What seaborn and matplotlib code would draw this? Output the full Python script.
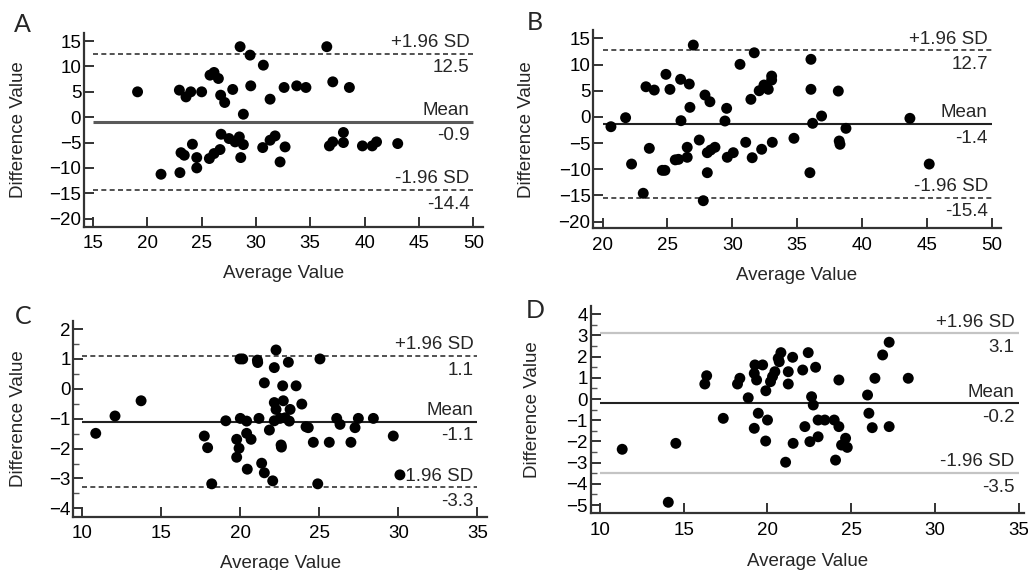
import matplotlib
matplotlib.use("Agg")
import matplotlib.pyplot as plt
from matplotlib.ticker import MultipleLocator
import seaborn as sns
import pandas as pd

# ---------------- data ----------------
panel_letters = ["A", "B", "C", "D"]
line_names = ["+1.96 SD", "Mean", "-1.96 SD"]

A_x = [19.1, 22.95, 23.56, 24.0, 25.0, 25.77, 26.14, 26.54, 26.75, 27.12, 27.86, 28.54,
       28.84, 29.46, 29.52, 30.68, 31.3, 32.59, 33.75, 34.6, 36.52, 37.07, 38.6,
       21.26, 23.0, 23.1, 23.4, 24.15, 24.55, 24.55, 25.71, 26.14, 26.69, 26.79, 27.52,
       28.08, 28.47, 28.84, 28.6, 30.62, 31.3, 31.76, 32.68, 32.22, 36.76, 37.07, 38.05,
       38.05, 39.8, 40.7, 41.1, 43.05]
A_y = [5.0, 5.33, 4.0, 5.0, 5.0, 8.29, 8.82, 7.63, 4.34, 2.9, 5.47, 13.9,
       0.59, 12.24, 6.18, 10.26, 3.55, 5.86, 6.18, 5.86, 13.9, 6.97, 5.86,
       -11.25, -10.93, -7.0, -7.5, -5.33, -7.96, -10.0, -8.15, -7.17, -6.38, -3.36, -4.21,
       -4.87, -3.89, -5.4, -7.96, -5.99, -4.54, -3.69, -5.86, -8.82, -5.66, -4.87, -3.02,
       -5.0, -5.66, -5.66, -4.87, -5.2]
A_limits = [12.5, -0.9, -14.4]

B_x = [26.99, 31.69, 30.59, 36.06, 24.88, 23.34, 23.98, 25.19, 26.01, 26.68, 27.89, 28.27,
       26.73, 29.56, 26.04, 29.43, 31.43, 32.07, 32.44, 32.77, 33.03, 33.03, 36.06, 38.17,
       36.88, 36.19, 38.76, 20.64, 21.77, 43.69,
       23.6, 24.6, 24.8, 25.6, 25.85, 26.52, 26.52, 27.45, 28.07, 28.33, 28.66, 28.07,
       29.61, 30.07, 31.03, 31.53, 32.26, 33.08, 34.75, 38.24, 38.3, 35.98, 23.13, 27.76,
       22.23, 45.18]
B_y = [13.72, 12.25, 10.04, 11.0, 8.13, 5.76, 5.13, 5.26, 7.18, 6.28, 4.18, 2.9,
       1.83, 1.64, -0.72, -0.78, 3.36, 5.0, 6.09, 5.27, 7.8, 7.04, 5.27, 4.94,
       0.17, -1.22, -2.18, -1.87, -0.15, -0.27,
       -6.0, -10.2, -10.2, -8.2, -8.1, -5.8, -7.71, -4.41, -6.83, -6.32, -5.8, -10.65,
       -7.71, -6.83, -4.85, -7.79, -6.18, -4.85, -4.08, -4.6, -5.23, -10.65, -14.58, -16.0,
       -9.0, -9.0]
B_limits = [12.7, -1.4, -15.4]

C_x = [22.26, 19.98, 20.15, 21.08, 21.1, 23.04, 22.15, 25.04, 21.52, 22.68, 23.53, 22.15,
       22.72, 22.26, 23.15, 23.89, 19.08, 20.0, 20.4, 21.18, 22.15, 22.51, 22.83, 23.1,
       21.84, 24.16, 24.3, 26.1, 26.31, 27.47, 27.26, 28.42, 17.72, 17.93, 19.77, 20.4,
       20.68, 19.92, 19.77, 22.58, 22.6, 24.62, 25.63, 27.0, 20.44, 21.35, 21.52, 22.05,
       18.19, 24.9, 10.85, 12.07, 13.72, 29.68, 30.1]
C_y = [1.3, 1.0, 1.0, 0.96, 0.88, 0.89, 0.71, 1.0, 0.2, 0.1, 0.1, -0.46,
       -0.4, -0.69, -0.69, -0.51, -1.07, -0.99, -1.08, -0.99, -1.07, -0.99, -0.97, -1.08,
       -1.38, -1.27, -1.3, -0.99, -1.19, -0.99, -1.3, -0.99, -1.58, -1.97, -1.69, -1.49,
       -1.69, -1.99, -2.29, -1.88, -1.95, -1.79, -1.79, -1.79, -2.69, -2.49, -2.81, -3.08,
       -3.18, -3.18, -1.49, -0.91, -0.4, -1.58, -2.88]
C_limits = [1.1, -1.1, -3.3]

D_x = [16.37, 16.26, 17.36, 14.53, 14.08, 11.33, 18.35, 18.21, 18.85, 19.25, 19.71, 19.21,
       19.35, 19.9, 20.18, 20.3, 20.44, 20.64, 20.8, 20.7, 21.5, 21.24, 21.24, 22.1,
       22.43, 22.87, 24.26, 22.63, 22.73, 19.45, 20.0, 19.21, 19.89, 21.53, 22.23, 23.02,
       23.42, 23.98, 24.26, 22.53, 23.02, 24.66, 24.42, 24.76, 21.08, 24.06, 27.26, 26.87,
       26.41, 28.4, 25.97, 26.05, 26.25, 27.26]
D_y = [1.1, 0.71, -0.91, -2.09, -4.87, -2.37, 0.98, 0.71, 0.06, 1.61, 1.61, 1.21,
       0.9, 0.39, 0.82, 1.06, 1.29, 1.92, 2.19, 1.76, 1.97, 1.29, 0.71, 1.37,
       2.19, 1.5, 0.9, 0.11, -0.28, -0.67, -0.99, -1.38, -1.98, -2.09, -1.3, -0.99,
       -0.99, -0.99, -1.3, -2.01, -1.78, -1.85, -2.17, -2.28, -2.98, -2.88, 2.68, 2.08,
       0.98, 0.98, 0.19, -0.67, -1.35, -1.3]
D_limits = [3.1, -0.2, -3.5]

A_xticks = [15, 20, 25, 30, 35, 40, 45, 50]
A_yticks = [15, 10, 5, 0, -5, -10, -15, -20]
B_xticks = [20, 25, 30, 35, 40, 45, 50]
B_yticks = [15, 10, 5, 0, -5, -10, -15, -20]
C_xticks = [10, 15, 20, 25, 30, 35]
C_yticks = [2, 1, 0, -1, -2, -3, -4]
D_xticks = [10, 15, 20, 25, 30, 35]
D_yticks = [4, 3, 2, 1, 0, -1, -2, -3, -4, -5]

x_label = "Average Value"
y_label = "Difference Value"

# ---------------- style ----------------
sns.set_theme(style="ticks")
plt.rcParams["font.family"] = ["Liberation Sans", "DejaVu Sans"]
plt.rcParams["axes.linewidth"] = 1.6
plt.rcParams["axes.edgecolor"] = "#333333"

FS = 13.5
fig = plt.figure(figsize=(10.28, 5.70), dpi=100)
W, H = 1028, 570

def px_axes(left, right, top, bottom):
    return fig.add_axes([left / W, (H - bottom) / H, (right - left) / W, (bottom - top) / H])

panels = [
    dict(letter="A", x=A_x, y=A_y, lim=A_limits, xt=A_xticks, yt=A_yticks,
         box=(84, 483, 33, 227), xlim=(14.17, 50.9), ylim=(-21.65, 16.6),
         minor=None, dashed=True, mean_col="#5a5a5a", mean_lw=2.2,
         letter_xy=(22, 25), xl_off=38, yl_off=57),
    dict(letter="B", x=B_x, y=B_y, lim=B_limits, xt=B_xticks, yt=B_yticks,
         box=(593.3, 1000.7, 30, 228.3), xlim=(19.28, 50.69), ylim=(-21.27, 16.6),
         minor=None, dashed=True, mean_col="#222222", mean_lw=1.5,
         letter_xy=(535, 22), xl_off=39, yl_off=58),
    dict(letter="C", x=C_x, y=C_y, lim=C_limits, xt=C_xticks, yt=C_yticks,
         box=(73.3, 487.3, 320.7, 516.7), xlim=(9.43, 35.63), ylim=(-4.28, 2.28),
         minor=0.5, dashed=True, mean_col="#222222", mean_lw=1.5,
         letter_xy=(23, 316), xl_off=38, yl_off=46),
    dict(letter="D", x=D_x, y=D_y, lim=D_limits, xt=D_xticks, yt=D_yticks,
         box=(590.7, 1023.9, 306, 513.3), xlim=(9.45, 35.3), ylim=(-5.39, 4.39),
         minor=0.5, dashed=False, mean_col="#222222", mean_lw=1.5,
         letter_xy=(535, 310), xl_off=40, yl_off=50),
]

for p in panels:
    left, right, top, bottom = p["box"]
    ax = px_axes(left, right, top, bottom)
    df = pd.DataFrame({"avg": p["x"], "diff": p["y"]})
    sns.scatterplot(data=df, x="avg", y="diff", ax=ax, color="black", s=62,
                    edgecolor="none", linewidth=0, zorder=5)
    ax.set_xlim(*p["xlim"])
    ax.set_ylim(*p["ylim"])
    ax.set_xticks(p["xt"])
    ax.set_yticks(p["yt"])
    if p["minor"]:
        ax.yaxis.set_minor_locator(MultipleLocator(p["minor"]))
        ax.tick_params(axis="y", which="minor", direction="in", length=4, width=1.0,
                       color="#555555")
    ax.tick_params(axis="both", which="major", direction="in", length=7, width=1.4,
                   color="#333333", labelsize=FS, labelcolor="black")
    ax.tick_params(axis="x", pad=6)
    ax.tick_params(axis="y", pad=2)
    sns.despine(ax=ax)

    x0, x1 = p["xt"][0], p["xt"][-1]
    for val, name in zip(p["lim"], line_names):
        if name == "Mean":
            ax.hlines(val, x0, x1, colors=p["mean_col"], linewidth=p["mean_lw"], zorder=3)
        elif p["dashed"]:
            ax.hlines(val, x0, x1, colors="#333333", linewidth=1.2,
                      linestyles=(0, (3, 2)), zorder=3)
        else:
            ax.hlines(val, x0, x1, colors="#c4c4c4", linewidth=1.6, zorder=3)
        tx = x1 - (x1 - x0) * 0.01
        ax.annotate(name, xy=(tx, val), xytext=(0, 2), textcoords="offset points",
                    ha="right", va="bottom", fontsize=FS, zorder=4)
        ax.annotate(f"{val:.1f}", xy=(tx, val), xytext=(0, -4), textcoords="offset points",
                    ha="right", va="top", fontsize=FS, zorder=4)

    ax.set_xlabel(x_label, fontsize=FS)
    ax.set_ylabel(y_label, fontsize=FS)
    h_px = bottom - top
    w_px = right - left
    ax.xaxis.set_label_coords(0.5, -p["xl_off"] / h_px)
    ax.yaxis.set_label_coords(-p["yl_off"] / w_px, 0.5)
    ax.xaxis.label.set_va("top")
    ax.yaxis.label.set_va("bottom")

    lx, ly = p["letter_xy"]
    fig.text(lx / W, (H - ly) / H, p["letter"], fontsize=18, ha="center", va="center",
             family=["Lato", "DejaVu Sans"])

fig.savefig("out.png", dpi=100)
